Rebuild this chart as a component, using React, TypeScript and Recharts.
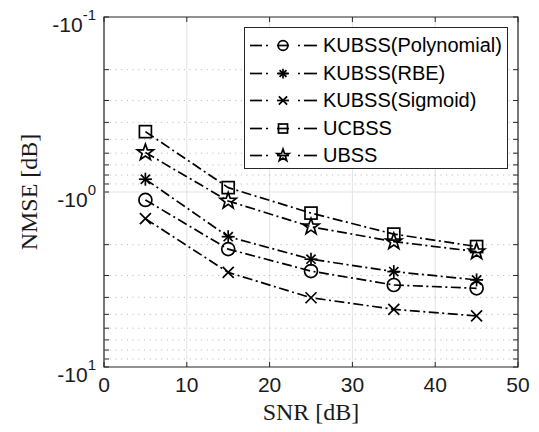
import React from 'react';
import {
  CartesianGrid,
  Label,
  Line,
  LineChart,
  ReferenceArea,
  ReferenceLine,
  XAxis,
  YAxis,
} from 'recharts';

// SNR in dB (x axis)
const snr = [5, 15, 25, 35, 45];

// NMSE in dB (y axis is log of the magnitude, drawn negative)
const kubssPoly = [-1.11, -2.12, -2.83, -3.4, -3.55];
const kubssRbe = [-0.845, -1.8, -2.42, -2.85, -3.18];
const kubssSigmoid = [-1.42, -2.88, -4.02, -4.68, -5.11];
const ucbss = [-0.452, -0.944, -1.32, -1.74, -2.05];
const ubss = [-0.595, -1.125, -1.58, -1.92, -2.19];

const xTicks = [0, 10, 20, 30, 40, 50];
const yMajor = [0.1, 1, 10];
const yExponents = ['-1', '0', '1'];
const yMinor = [0.2, 0.3, 0.4, 0.5, 0.6, 0.7, 0.8, 0.9, 2, 3, 4, 5, 6, 7, 8, 9];

const series = [
  { key: 'poly', name: 'KUBSS(Polynomial)', marker: 'circle', values: kubssPoly },
  { key: 'rbe', name: 'KUBSS(RBE)', marker: 'asterisk', values: kubssRbe },
  { key: 'sig', name: 'KUBSS(Sigmoid)', marker: 'cross', values: kubssSigmoid },
  { key: 'ucbss', name: 'UCBSS', marker: 'square', values: ucbss },
  { key: 'ubss', name: 'UBSS', marker: 'star', values: ubss },
];

// log axis needs positive numbers, so plot |NMSE| on a reversed log scale
const data = snr.map((s, i) => {
  const row: any = { snr: s };
  series.forEach((sr) => {
    row[sr.key] = -sr.values[i];
  });
  return row;
});

const W = 539;
const H = 432;
const PLOT_LEFT = 104;
const PLOT_RIGHT = 518;
const PLOT_TOP = 17;
const PLOT_BOTTOM = 367;
const TICK_LEN = 5;
const SANS = '"Liberation Sans", Arial, Helvetica, sans-serif';
const SERIF = '"Liberation Serif", "Times New Roman", serif';
const DASH = '10 3.5 2 3.5';
const LW = 1.7;

function starPoints(cx: number, cy: number, ro: number, ri: number) {
  const pts: string[] = [];
  for (let i = 0; i < 10; i++) {
    const r = i % 2 === 0 ? ro : ri;
    const a = -Math.PI / 2 + (i * Math.PI) / 5;
    pts.push(`${cx + r * Math.cos(a)},${cy + r * Math.sin(a)}`);
  }
  return pts.join(' ');
}

function Marker({ kind, cx, cy, s = 1 }: { kind: string; cx: number; cy: number; s?: number }) {
  const st = { stroke: '#000', strokeWidth: LW, fill: 'none' };
  if (kind === 'circle') return <circle cx={cx} cy={cy} r={6.5 * s} {...st} />;
  if (kind === 'square')
    return <rect x={cx - 6 * s} y={cy - 6 * s} width={12 * s} height={12 * s} {...st} />;
  if (kind === 'cross') {
    const d = 5.5 * s;
    return (
      <g {...st}>
        <line x1={cx - d} y1={cy - d} x2={cx + d} y2={cy + d} />
        <line x1={cx - d} y1={cy + d} x2={cx + d} y2={cy - d} />
      </g>
    );
  }
  if (kind === 'asterisk') {
    const d = 6.5 * s;
    const e = 4.6 * s;
    return (
      <g {...st}>
        <line x1={cx} y1={cy - d} x2={cx} y2={cy + d} />
        <line x1={cx - d} y1={cy} x2={cx + d} y2={cy} />
        <line x1={cx - e} y1={cy - e} x2={cx + e} y2={cy + e} />
        <line x1={cx - e} y1={cy + e} x2={cx + e} y2={cy - e} />
      </g>
    );
  }
  return <polygon points={starPoints(cx, cy, 8.5 * s, 3.4 * s)} {...st} />;
}

function YTick(props: any) {
  const { x, y, payload } = props;
  const idx = yMajor.indexOf(payload.value);
  return (
    <g>
      <line x1={x} y1={y} x2={x + TICK_LEN} y2={y} stroke="#262626" />
      <line x1={PLOT_RIGHT - TICK_LEN} y1={y} x2={PLOT_RIGHT} y2={y} stroke="#262626" />
      {idx >= 0 && (
        <text x={96} y={y + 15} textAnchor="end" fontFamily={SANS} fontSize={21} fill="#1a1a1a">
          <tspan>-10</tspan>
          <tspan dy={-12} fontSize={15}>
            {yExponents[idx]}
          </tspan>
        </text>
      )}
    </g>
  );
}

function XTick(props: any) {
  const { x, y, payload } = props;
  return (
    <g>
      <line x1={x} y1={y} x2={x} y2={y - TICK_LEN} stroke="#262626" />
      <line x1={x} y1={PLOT_TOP} x2={x} y2={PLOT_TOP + TICK_LEN} stroke="#262626" />
      <text x={x} y={y + 25} textAnchor="middle" fontFamily={SANS} fontSize={21} fill="#1a1a1a">
        {payload.value}
      </text>
    </g>
  );
}

function LegendBox() {
  return (
    <div
      style={{
        position: 'absolute',
        left: 244,
        top: 27,
        width: 264,
        height: 142,
        border: '1px solid #262626',
        background: '#fff',
        boxSizing: 'border-box',
        paddingTop: 4,
      }}
    >
      {series.map((sr) => (
        <div key={sr.key} style={{ display: 'flex', alignItems: 'center', height: 27.5 }}>
          <svg width={78} height={27} style={{ flex: 'none' }}>
            <g stroke="#000" strokeWidth={LW}>
              <line x1={5} y1={13.5} x2={17} y2={13.5} />
              <line x1={21} y1={13.5} x2={23} y2={13.5} />
              <line x1={32} y1={13.5} x2={44} y2={13.5} />
              <line x1={53} y1={13.5} x2={55} y2={13.5} />
              <line x1={59} y1={13.5} x2={72} y2={13.5} />
            </g>
            <Marker kind={sr.marker} cx={38} cy={13.5} s={0.75} />
          </svg>
          <span style={{ fontFamily: SANS, fontSize: 20, color: '#000', whiteSpace: 'nowrap' }}>
            {sr.name}
          </span>
        </div>
      ))}
    </div>
  );
}

export default function App() {
  return (
    <div style={{ position: 'absolute', left: 0, top: 0, width: W, height: H, background: '#fff' }}>
      <LineChart
        width={W}
        height={H}
        data={data}
        margin={{ top: PLOT_TOP, right: W - PLOT_RIGHT, left: 0, bottom: 0 }}
      >
        <CartesianGrid horizontal={false} stroke="#e3e3e3" strokeWidth={1} />
        {yMinor.map((v) => (
          <ReferenceLine key={v} y={v} stroke="#bdbdbd" strokeDasharray="1.2 4.5" strokeWidth={1} />
        ))}
        <ReferenceLine y={1} stroke="#e3e3e3" strokeWidth={1} />
        <XAxis
          dataKey="snr"
          type="number"
          domain={[0, 50]}
          ticks={xTicks}
          height={H - PLOT_BOTTOM}
          axisLine={false}
          tickLine={false}
          tickSize={0}
          tickMargin={0}
          tick={<XTick />}
          interval={0}
        >
          <Label
            content={(p: any) => (
              <text
                x={p.viewBox.x + p.viewBox.width / 2}
                y={420}
                textAnchor="middle"
                fontFamily={SERIF}
                fontSize={24}
                fill="#1a1a1a"
              >
                SNR [dB]
              </text>
            )}
          />
        </XAxis>
        <YAxis
          scale="log"
          type="number"
          domain={[0.1, 10]}
          reversed
          allowDataOverflow
          ticks={[...yMajor, ...yMinor]}
          width={PLOT_LEFT}
          axisLine={false}
          tickLine={false}
          tickSize={0}
          tickMargin={0}
          tick={<YTick />}
          interval={0}
        >
          <Label
            content={(p: any) => {
              const cy = p.viewBox.y + p.viewBox.height / 2;
              return (
                <text
                  x={37}
                  y={cy}
                  transform={`rotate(-90, 37, ${cy})`}
                  textAnchor="middle"
                  fontFamily={SERIF}
                  fontSize={24}
                  fill="#1a1a1a"
                >
                  NMSE [dB]
                </text>
              );
            }}
          />
        </YAxis>
        <ReferenceArea x1={0} x2={50} y1={0.1} y2={10} fill="none" stroke="#262626" strokeWidth={1.2} />
        {series.map((sr) => (
          <Line
            key={sr.key}
            dataKey={sr.key}
            name={sr.name}
            type="linear"
            stroke="#000"
            strokeWidth={LW}
            strokeDasharray={DASH}
            isAnimationActive={false}
            dot={(p: any) => (
              <Marker key={`${sr.key}-${p.index}`} kind={sr.marker} cx={p.cx} cy={p.cy} />
            )}
            activeDot={false}
          />
        ))}
      </LineChart>
      <LegendBox />
    </div>
  );
}
